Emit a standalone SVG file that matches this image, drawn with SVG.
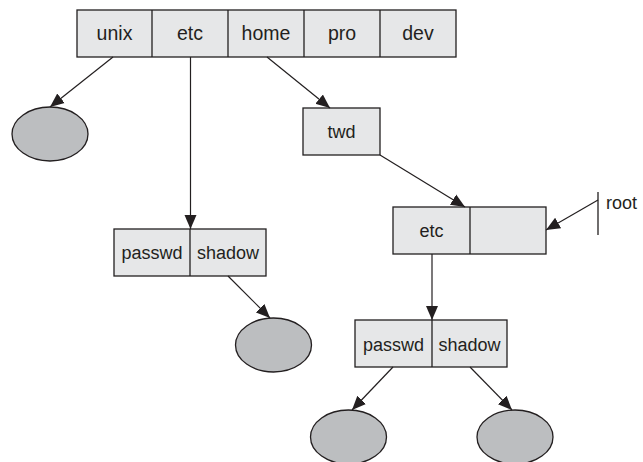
<svg xmlns="http://www.w3.org/2000/svg" width="643" height="462" viewBox="0 0 643 462">
<style>
.box{fill:#e6e7e8;stroke:#231f20;stroke-width:1.3}
.ell{fill:#bcbec0;stroke:#231f20;stroke-width:1.3}
.div{stroke:#231f20;stroke-width:1.3}
.t{font-family:"Liberation Sans",Arial,sans-serif;font-size:18px;fill:#231f20;text-anchor:middle}
.tb{font-size:19.5px}
.edge{stroke:#231f20;stroke-width:1.2;fill:none;marker-end:url(#ah)}
</style>
<defs>
<marker id="ah" markerUnits="userSpaceOnUse" markerWidth="14" markerHeight="14" viewBox="0 0 14 12" refX="14" refY="6" orient="auto">
<path d="M0,0 L14,6 L0,12 Z" fill="#231f20"/>
</marker>
</defs>
<g id="top">
<rect class="box" x="77" y="10" width="379" height="47"/>
<line class="div" x1="152" y1="10" x2="152" y2="57"/>
<line class="div" x1="228" y1="10" x2="228" y2="57"/>
<line class="div" x1="304" y1="10" x2="304" y2="57"/>
<line class="div" x1="380" y1="10" x2="380" y2="57"/>
<text class="t tb" x="114.5" y="40">unix</text>
<text class="t tb" x="190" y="40">etc</text>
<text class="t tb" x="266" y="40">home</text>
<text class="t tb" x="342" y="40">pro</text>
<text class="t tb" x="418" y="40">dev</text>
</g>
<g id="ell1"><ellipse class="ell" cx="50" cy="134" rx="38" ry="27"/></g>
<g id="twd">
<rect class="box" x="303" y="108" width="77" height="47"/>
<text class="t" x="341.5" y="138">twd</text>
</g>
<g id="pw1">
<rect class="box" x="114" y="229" width="152" height="47"/>
<line class="div" x1="190" y1="229" x2="190" y2="276"/>
<text class="t" x="152" y="259">passwd</text>
<text class="t" x="228" y="259">shadow</text>
</g>
<g id="ell2"><ellipse class="ell" cx="273.5" cy="345" rx="38" ry="27"/></g>
<g id="etc2">
<rect class="box" x="393" y="207" width="153" height="47"/>
<line class="div" x1="470" y1="207" x2="470" y2="254"/>
<text class="t" x="431.5" y="237">etc</text>
</g>
<g id="root">
<line class="div" x1="598" y1="192" x2="598" y2="235"/>
<text class="t" x="606" y="209" style="text-anchor:start">root</text>
</g>
<g id="pw2">
<rect class="box" x="355" y="320" width="152" height="47"/>
<line class="div" x1="432" y1="320" x2="432" y2="367"/>
<text class="t" x="393.5" y="350.5">passwd</text>
<text class="t" x="469.5" y="350.5">shadow</text>
</g>
<g id="ell3"><ellipse class="ell" cx="348.5" cy="437" rx="38" ry="27"/></g>
<g id="ell4"><ellipse class="ell" cx="515" cy="437" rx="38" ry="27"/></g>
<g id="connectors">
<line class="edge" x1="113" y1="57" x2="50" y2="107"/>
<line class="edge" x1="190.5" y1="57" x2="190.5" y2="229"/>
<line class="edge" x1="267" y1="57" x2="330" y2="108"/>
<line class="edge" x1="380" y1="155" x2="465" y2="207"/>
<line class="edge" x1="598" y1="200" x2="546" y2="230"/>
<line class="edge" x1="432" y1="254" x2="432" y2="320"/>
<line class="edge" x1="228" y1="276" x2="270" y2="318"/>
<line class="edge" x1="393" y1="367" x2="352" y2="410"/>
<line class="edge" x1="470" y1="367" x2="512" y2="410"/>
</g>
</svg>
